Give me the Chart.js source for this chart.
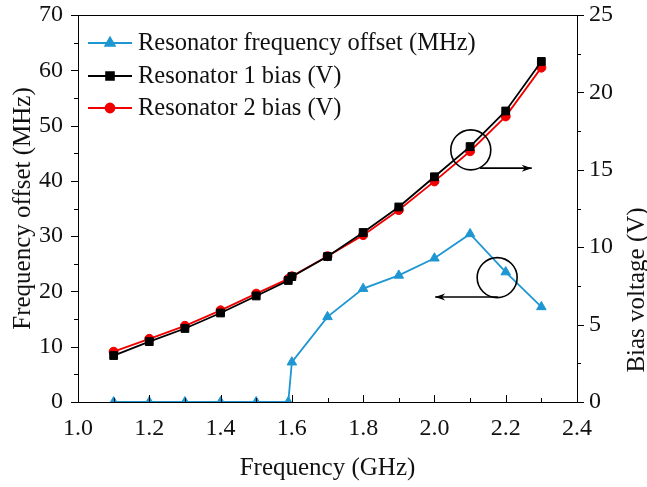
<!DOCTYPE html>
<html>
<head>
<meta charset="utf-8">
<script src="https://cdn.jsdelivr.net/npm/chart.js@4.4.1/dist/chart.umd.min.js"></script>
<style>
    html, body { margin: 0; padding: 0; background: #fff; }
    #wrap { width: 647px; height: 487px; position: relative; }
</style>
</head>
<body>
<div id="wrap"><canvas id="chart"></canvas></div>
<script>
(function () {
    'use strict';

    // frequency in GHz
    var freqGHz = [1.1, 1.2, 1.3, 1.4, 1.5, 1.59, 1.6, 1.7, 1.8, 1.9, 2.0, 2.1, 2.2, 2.3];
    var offsetMHz = [0, 0, 0, 0, 0, 0, 7.2, 15.4, 20.5, 22.9, 26.0, 30.4, 23.5, 17.2];
    var bias1V = [3.0, 3.9, 4.75, 5.75, 6.85, 7.85, 8.1, 9.4, 10.95, 12.6, 14.55, 16.5, 18.8, 22.0];
    var bias2V = [3.25, 4.08, 4.92, 5.92, 7.0, 7.95, 8.12, 9.42, 10.78, 12.4, 14.25, 16.2, 18.45, 21.6];

    var xTicks = [1.0, 1.2, 1.4, 1.6, 1.8, 2.0, 2.2, 2.4];
    var leftTicks = [0, 10, 20, 30, 40, 50, 60, 70];
    var rightTicks = [0, 5, 10, 15, 20, 25];

    var legendLabels = ['Resonator frequency offset (MHz)', 'Resonator 1 bias (V)', 'Resonator 2 bias (V)'];

    // circle + arrow callouts, in data units of (x, left axis)
    var callouts = [
        { cx: 2.102, cy: 45.6, x0: 2.128, x1: 2.273, ay: 42.3 },
        { cx: 2.176, cy: 22.5, x0: 2.178, x1: 2.002, ay: 19.0 }
    ];

    var BLUE = 'rgb(30,150,210)';
    var RED = 'rgb(240,0,0)';
    var BLACK = '#000';
    var FONT = '"Liberation Serif", "Times New Roman", serif';

    function pairs(xs, ys) {
        return xs.map(function (x, i) {
            return { x: x, y: ys[i] };
        });
    }

    function minorBetween(ticks) {
        var out = [];
        for (var i = 0; i < ticks.length - 1; i++) {
            out.push((ticks[i] + ticks[i + 1]) / 2);
        }
        return out;
    }

    function noOverflow(s) {
        s.paddingTop = 0;
        s.paddingBottom = 0;
        s.paddingLeft = 0;
        s.paddingRight = 0;
    }

    var framePlugin = {
        id: 'frame',
        afterDatasetsDraw: function (chart) {
            var ctx = chart.ctx;
            var a = chart.chartArea;
            var sx = chart.scales.x, sl = chart.scales.y, sr = chart.scales.y2;
            ctx.save();
            ctx.strokeStyle = '#000';
            ctx.lineWidth = 1;
            ctx.strokeRect(Math.round(a.left) + 0.5, Math.round(a.top) + 0.5,
                Math.round(a.right - a.left), Math.round(a.bottom - a.top));

            ctx.beginPath();
            function hTick(scale, v, len, side) {
                var y = Math.round(scale.getPixelForValue(v)) + 0.5;
                var x = side < 0 ? a.left : a.right;
                ctx.moveTo(x, y);
                ctx.lineTo(x + side * len, y);
            }
            leftTicks.forEach(function (v) { hTick(sl, v, 7, -1); });
            minorBetween(leftTicks).forEach(function (v) { hTick(sl, v, 4, -1); });
            rightTicks.forEach(function (v) { hTick(sr, v, 7, 1); });
            minorBetween(rightTicks).forEach(function (v) { hTick(sr, v, 4, 1); });
            function vTick(v, len) {
                var x = Math.round(sx.getPixelForValue(v)) + 0.5;
                ctx.moveTo(x, a.bottom);
                ctx.lineTo(x, a.bottom - len);
            }
            xTicks.forEach(function (v) { vTick(v, 7); });
            minorBetween(xTicks).forEach(function (v) { vTick(v, 4); });
            ctx.stroke();

            // callouts
            ctx.lineWidth = 1.6;
            callouts.forEach(function (c) {
                var cx = sx.getPixelForValue(c.cx), cy = sl.getPixelForValue(c.cy);
                ctx.beginPath();
                ctx.arc(cx, cy, 20, 0, Math.PI * 2);
                ctx.stroke();
                var ax0 = sx.getPixelForValue(c.x0), ax1 = sx.getPixelForValue(c.x1);
                var ay = sl.getPixelForValue(c.ay);
                ctx.beginPath();
                ctx.moveTo(ax0, ay);
                ctx.lineTo(ax1, ay);
                ctx.stroke();
                var dir = ax1 > ax0 ? 1 : -1;
                ctx.beginPath();
                ctx.moveTo(ax1, ay);
                ctx.lineTo(ax1 - dir * 10, ay - 3.5);
                ctx.lineTo(ax1 - dir * 7, ay);
                ctx.lineTo(ax1 - dir * 10, ay + 3.5);
                ctx.closePath();
                ctx.fillStyle = '#000';
                ctx.fill();
            });

            // legend
            var rows = [43, 76, 108];
            chart.data.datasets.forEach(function (ds, i) {
                var y = rows[i];
                ctx.strokeStyle = ds.borderColor;
                ctx.lineWidth = 1.8;
                ctx.beginPath();
                ctx.moveTo(88, y);
                ctx.lineTo(132, y);
                ctx.stroke();
                ctx.fillStyle = ds.pointBackgroundColor;
                ctx.strokeStyle = ds.pointBackgroundColor;
                Chart.helpers.drawPoint(ctx, {
                    pointStyle: ds.pointStyle,
                    radius: ds.pointRadius,
                    borderWidth: 1
                }, 110, y);
                ctx.fillStyle = '#111';
                ctx.font = '24.5px ' + FONT;
                ctx.textBaseline = 'middle';
                ctx.textAlign = 'left';
                ctx.fillText(legendLabels[i], 138, y + 1);
            });

            // right axis title, reading bottom to top
            ctx.save();
            ctx.translate(637, 290);
            ctx.rotate(-Math.PI / 2);
            ctx.font = '25px ' + FONT;
            ctx.fillStyle = '#111';
            ctx.textAlign = 'center';
            ctx.textBaseline = 'middle';
            ctx.fillText('Bias voltage (V)', 0, 0);
            ctx.restore();

            ctx.restore();
        }
    };

    function lineSet(label, xs, ys, color, style, radius, axis) {
        return {
            label: label,
            data: pairs(xs, ys),
            yAxisID: axis,
            borderColor: color,
            backgroundColor: color,
            pointBackgroundColor: color,
            pointBorderColor: color,
            pointStyle: style,
            pointRadius: radius,
            pointBorderWidth: 1,
            borderWidth: 1.8,
            tension: 0,
            fill: false
        };
    }

    new Chart(document.getElementById('chart'), {
        type: 'line',
        data: {
            datasets: [
                lineSet(legendLabels[0], freqGHz, offsetMHz, BLUE, 'triangle', 5.5, 'y'),
                lineSet(legendLabels[1], freqGHz, bias1V, BLACK, 'rect', 5.5, 'y2'),
                lineSet(legendLabels[2], freqGHz, bias2V, RED, 'circle', 4.5, 'y2')
            ]
        },
        options: {
            responsive: true,
            maintainAspectRatio: false,
            animation: false,
            devicePixelRatio: 1,
            layout: { padding: { top: 15, left: 0, right: 0, bottom: 0 } },
            plugins: {
                legend: { display: false },
                tooltip: { enabled: false }
            },
            scales: {
                x: {
                    type: 'linear',
                    min: 1.0,
                    max: 2.4,
                    afterBuildTicks: function (s) {
                        s.ticks = xTicks.map(function (v) { return { value: v }; });
                    },
                    afterFit: function (s) { s.height = 85; noOverflow(s); },
                    grid: { display: false },
                    border: { display: false },
                    ticks: {
                        color: '#111',
                        padding: 4,
                        maxRotation: 0,
                        font: { family: FONT, size: 24 },
                        callback: function (v) { return Number(v).toFixed(1); }
                    },
                    title: {
                        display: true,
                        text: 'Frequency (GHz)',
                        color: '#111',
                        font: { family: FONT, size: 25 },
                        padding: { top: 4, bottom: 4 }
                    }
                },
                y: {
                    position: 'left',
                    min: 0,
                    max: 70,
                    afterBuildTicks: function (s) {
                        s.ticks = leftTicks.map(function (v) { return { value: v }; });
                    },
                    afterFit: function (s) { s.width = 78; noOverflow(s); },
                    grid: { display: false },
                    border: { display: false },
                    ticks: {
                        color: '#111',
                        padding: 7,
                        font: { family: FONT, size: 24 }
                    },
                    title: {
                        display: true,
                        text: 'Frequency offset (MHz)',
                        color: '#111',
                        font: { family: FONT, size: 25 },
                        padding: { top: 8, bottom: 0 }
                    }
                },
                y2: {
                    position: 'right',
                    min: 0,
                    max: 25,
                    afterBuildTicks: function (s) {
                        s.ticks = rightTicks.map(function (v) { return { value: v }; });
                    },
                    afterFit: function (s) { s.width = 70; noOverflow(s); },
                    grid: { display: false },
                    border: { display: false },
                    ticks: {
                        color: '#111',
                        padding: 4,
                        font: { family: FONT, size: 24 }
                    }
                }
            }
        },
        plugins: [framePlugin]
    });
})();
</script>
</body>
</html>
